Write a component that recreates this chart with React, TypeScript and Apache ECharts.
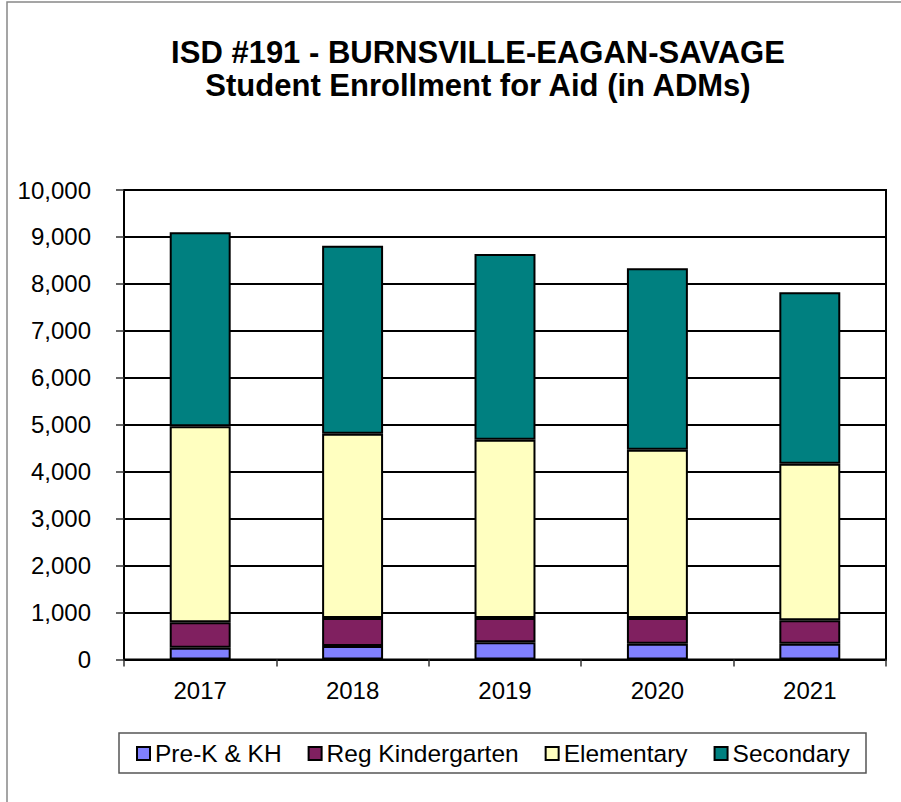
import React, { useEffect, useRef } from "react";
import * as echarts from "echarts";

const years = ["2017", "2018", "2019", "2020", "2021"];
const preK = [250, 285, 370, 335, 335];
const regK = [545, 600, 515, 550, 500];
const elementary = [4175, 3925, 3795, 3585, 3335];
const secondary = [4130, 4000, 3955, 3865, 3650];
const seriesNames = ["Pre-K & KH", "Reg Kindergarten", "Elementary", "Secondary"];
const seriesColors = ["#8080FF", "#802060", "#FFFFC0", "#008080"];
const titleLines = ["ISD #191 - BURNSVILLE-EAGAN-SAVAGE", "Student Enrollment for Aid (in ADMs)"];

const FONT = "'Liberation Sans', Arial, sans-serif";

export default function App() {
  const ref = useRef<HTMLDivElement>(null);
  useEffect(() => {
    if (!ref.current) return;
    const chart = echarts.init(ref.current, null, { renderer: "svg" });
    const dataSets = [preK, regK, elementary, secondary];
    chart.setOption({
      animation: false,
      backgroundColor: "#ffffff",
      textStyle: { fontFamily: FONT },
      graphic: [
        {
          type: "rect",
          shape: { x: 7, y: 2, width: 1000, height: 1000 },
          style: { fill: "none", stroke: "#888888", lineWidth: 1.5 },
          silent: true,
        },
        {
          type: "text",
          x: 478,
          y: 52,
          style: {
            text: titleLines[0],
            font: `bold 31px ${FONT}`,
            fill: "#000",
            textAlign: "center",
            textVerticalAlign: "middle",
          },
        },
        {
          type: "text",
          x: 478,
          y: 85,
          style: {
            text: titleLines[1],
            font: `bold 31px ${FONT}`,
            fill: "#000",
            textAlign: "center",
            textVerticalAlign: "middle",
          },
        },
        {
          type: "rect",
          shape: { x: 119, y: 733, width: 747, height: 40 },
          style: { fill: "none", stroke: "#555555", lineWidth: 1.5 },
          silent: true,
        },
      ],
      legend: {
        left: 136,
        top: 741,
        padding: 0,
        itemGap: 26,
        itemWidth: 13,
        itemHeight: 13,
        icon: "rect",
        data: seriesNames,
        textStyle: { fontSize: 24.5, color: "#000", fontFamily: FONT },
        itemStyle: { borderColor: "#000", borderWidth: 2 },
      },
      grid: {
        left: 124,
        right: 15,
        top: 190,
        bottom: 142.5,
        show: true,
        borderColor: "#000",
        borderWidth: 2,
        containLabel: false,
      },
      xAxis: {
        type: "category",
        data: years,
        axisLine: { show: true, lineStyle: { color: "#000", width: 2 } },
        axisTick: { show: true, alignWithLabel: false, length: 7, lineStyle: { color: "#333", width: 1.5 } },
        axisLabel: { fontSize: 24, color: "#000", margin: 19, fontFamily: FONT },
        splitLine: { show: false },
      },
      yAxis: {
        type: "value",
        min: 0,
        max: 10000,
        interval: 1000,
        axisLine: { show: true, lineStyle: { color: "#000", width: 2 } },
        axisTick: { show: true, length: 8, inside: false, lineStyle: { color: "#333", width: 1.5 } },
        axisLabel: {
          fontSize: 24,
          color: "#000",
          margin: 33,
          fontFamily: FONT,
          formatter: (v: number) => v.toLocaleString("en-US"),
        },
        splitLine: { show: true, lineStyle: { color: "#000", width: 2 } },
      },
      series: seriesNames.map((name, i) => ({
        name,
        type: "bar",
        stack: "total",
        barWidth: "40%",
        data: dataSets[i],
        itemStyle: { color: seriesColors[i], borderColor: "#000", borderWidth: 2 },
      })),
    });
    return () => chart.dispose();
  }, []);
  return (
    <div
      ref={ref}
      style={{ position: "absolute", left: 0, top: 0, width: 901, height: 802 }}
    />
  );
}
